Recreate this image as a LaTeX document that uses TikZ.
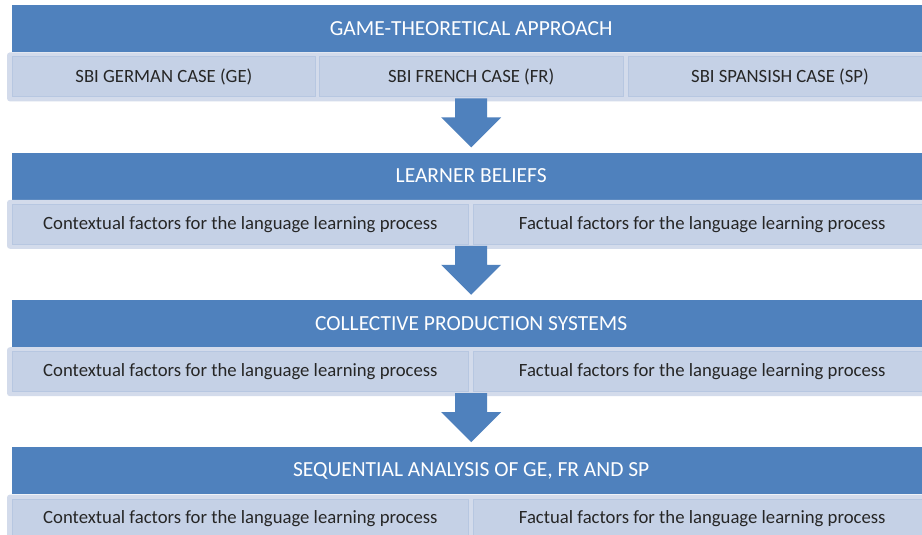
\documentclass[tikz,border=0pt]{standalone}
\usepackage{fontspec}
\setmainfont{Carlito}
\usetikzlibrary{positioning,calc}

\definecolor{hdrblue}{HTML}{4F81BD}
\definecolor{subfill}{HTML}{C5D1E6}
\definecolor{subedge}{HTML}{B7C7E1}
\definecolor{glowblue}{HTML}{D3DBEB}

\tikzset{
  header/.style={fill=hdrblue, text=white, inner sep=0pt,
    minimum width=918pt, minimum height=47pt, font=\fontsize{21.5}{24}\selectfont},
  subbox/.style={fill=subfill, draw=subedge, line width=0.8pt, inner sep=0pt,
    minimum height=40pt, anchor=north west, text=black!85, font=\fontsize{18.7}{22}\selectfont},
  glow/.style={fill=glowblue, rounded corners=3pt},
  pics/downarrow/.style={code={
    \fill[hdrblue] (0,0) -- (30pt,30pt) -- (16pt,30pt) -- (16pt,49pt)
      -- (-16pt,49pt) -- (-16pt,30pt) -- (-30pt,30pt) -- cycle;}}
}

\begin{document}
\begin{tikzpicture}[x=1pt, y=1pt]
    \clip (0,0) rectangle (922,535);
    \fill[white] (0,0) rectangle (922,535);

    % Headers
    \node[header, anchor=north west] (head1) at (12,530) {GAME-THEORETICAL APPROACH};
    \node[header, below=100pt of head1] (head2) {LEARNER BELIEFS};
    \node[header, below=100pt of head2] (head3) {COLLECTIVE PRODUCTION SYSTEMS};
    \node[header, below=100pt of head3] (head4) {SEQUENTIAL ANALYSIS OF GE, FR AND SP};

    % Glow behind the sub rows
    \foreach \h in {head1,head2,head3,head4}
        \fill[glow] ($(\h.south west)+(-5pt,0)$) rectangle ($(\h.south east)+(0,-49pt)$);

    % Block 1: three cases
    \node[subbox, minimum width=303pt] (ge) at ($(head1.south west)+(0,-4pt)$) {SBI GERMAN CASE (GE)};
    \node[subbox, minimum width=304pt, right=3pt of ge.north east, anchor=north west] (fr) {SBI FRENCH CASE (FR)};
    \node[subbox, minimum width=304pt, right=4pt of fr.north east, anchor=north west] (sp) {SBI SPANSISH CASE (SP)};

    % Blocks 2-4: two factors each
    \node[subbox, minimum width=456pt] (ctx2) at ($(head2.south west)+(0,-4pt)$) {Contextual factors for the language learning process};
    \node[subbox, minimum width=458pt, right=4pt of ctx2.north east, anchor=north west] (fac2) {Factual factors for the language learning process};
    \node[subbox, minimum width=456pt] (ctx3) at ($(head3.south west)+(0,-4pt)$) {Contextual factors for the language learning process};
    \node[subbox, minimum width=458pt, right=4pt of ctx3.north east, anchor=north west] (fac3) {Factual factors for the language learning process};
    \node[subbox, minimum width=456pt] (ctx4) at ($(head4.south west)+(0,-4pt)$) {Contextual factors for the language learning process};
    \node[subbox, minimum width=458pt, right=4pt of ctx4.north east, anchor=north west] (fac4) {Factual factors for the language learning process};

    % Block arrows
    \pic (arr1) at ($(head2.north)+(0,5pt)$) {downarrow};
    \pic (arr2) at ($(head3.north)+(0,5pt)$) {downarrow};
    \pic (arr3) at ($(head4.north)+(0,5pt)$) {downarrow};
\end{tikzpicture}
\end{document}
